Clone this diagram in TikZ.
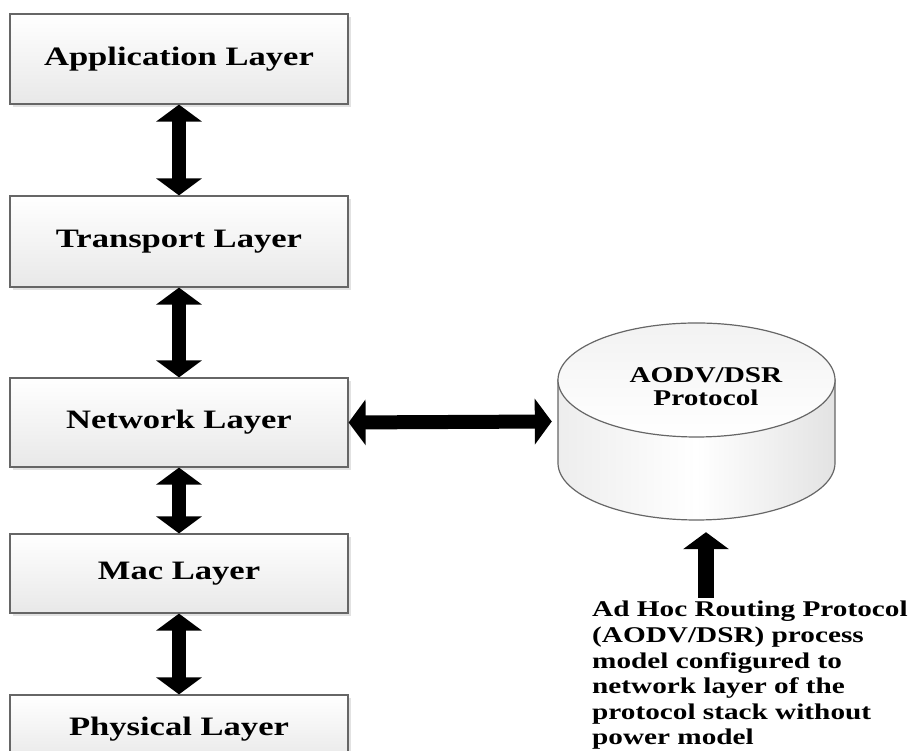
\documentclass[tikz,border=0pt]{standalone}
\usepackage{fontspec}
\setmainfont{Liberation Serif}[FakeStretch=1.3]
\usetikzlibrary{arrows.meta,shadows,calc}

\tikzset{
  layerbox/.style={
    draw=black!60, line width=1.2pt,
    top color=white, bottom color=black!9,
    minimum width=338pt, inner sep=0pt,
    font=\bfseries\fontsize{26.6}{30}\selectfont,
    drop shadow={shadow xshift=3pt, shadow yshift=-3pt, opacity=0.25, fill=black!45}},
  bigtip/.tip={Triangle[width=45pt 0 0, length=17pt 0 0]},
  duplex/.style={line width=14pt, bigtip-bigtip},
  simplex/.style={line width=16pt, -bigtip},
  cylline/.style={draw=black!60, line width=1.2pt},
}

\begin{document}
\begin{tikzpicture}[x=1pt,y=1pt]
\useasboundingbox (0,0) rectangle (914,751);
\clip (0,0) rectangle (914,751);

% protocol stack
\node[layerbox, minimum height=90pt] (app)   at (179,692)   {Application Layer};
\node[layerbox, minimum height=91pt] (trans) at (179,509.5) {Transport Layer};
\node[layerbox, minimum height=89pt] (net)   at (179,328.5) {Network Layer};
\node[layerbox, minimum height=79pt] (mac)   at (179,177.5) {Mac Layer};
\node[layerbox, minimum height=68pt] (phys)  at (179,22)    {Physical Layer};

\draw[duplex] (app.south)   -- (trans.north);
\draw[duplex] (trans.south) -- (net.north);
\draw[duplex] (net.south)   -- (mac.north);
\draw[duplex] (mac.south)   -- (phys.north);

% routing protocol store
\node[minimum width=277pt, minimum height=197pt, inner sep=0pt] (db) at (696.5,329.5) {};
\path[cylline, left color=black!7, right color=black!11, middle color=white]
  (558,371) -- (558,288)
  arc[start angle=180, end angle=360, x radius=138.5, y radius=57]
  -- (835,371) -- cycle;
\path[cylline, top color=black!5, bottom color=white]
  (696.5,371) ellipse [x radius=138.5, y radius=57];
\node[align=center, font=\bfseries\fontsize{22.5}{23.5}\selectfont] (dbtext) at (706,364.5)
  {AODV/DSR\\Protocol};

\draw[duplex] (net.east) -- ([xshift=-6pt]db.west);

% explanatory note
\node[anchor=north west, align=left, inner sep=0pt,
      font=\bfseries\fontsize{22.5}{25.6}\selectfont] (note) at (592,150)
  {Ad Hoc Routing Protocol\\(AODV/DSR) process\\model configured to\\network layer of the\\protocol stack without\\power model};

\coordinate (foot) at (706,153);
\draw[simplex, shorten >=12pt] (foot) -- (foot |- db.south);
\end{tikzpicture}
\end{document}
